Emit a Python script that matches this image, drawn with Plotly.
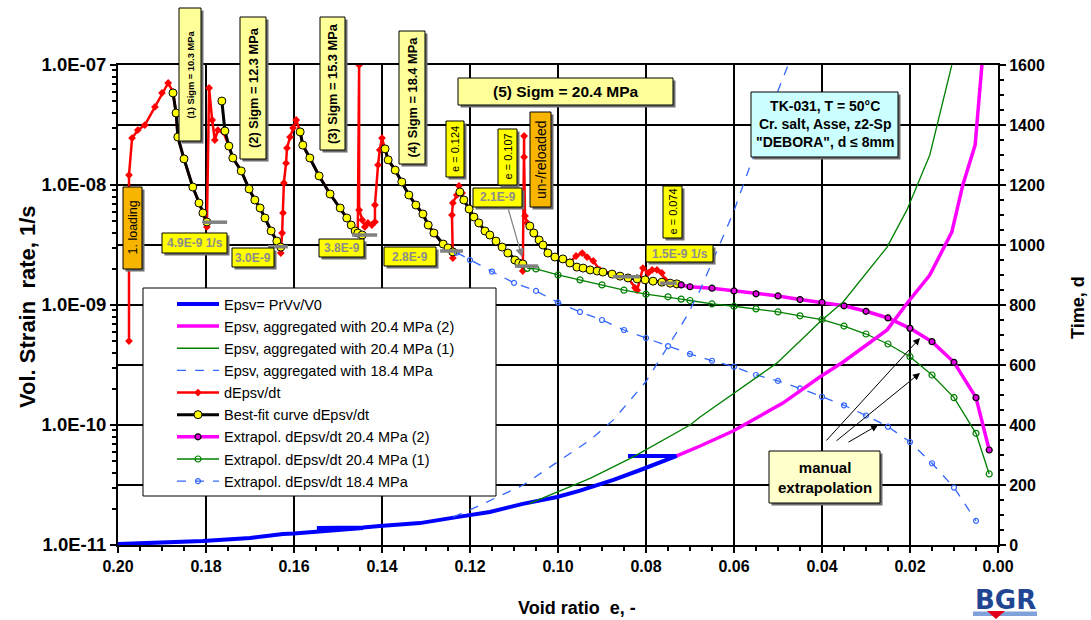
import plotly.graph_objects as go

FONT = "Liberation Sans, Arial, sans-serif"

# ---------------- data (right axis: time, d) ----------------
epsv_e = [0.200, 0.1905, 0.1807, 0.170, 0.1625, 0.160, 0.1518, 0.1443, 0.1548, 0.1443, 0.1405,
          0.1314, 0.123, 0.1155, 0.108, 0.1002, 0.095, 0.0874, 0.0813, 0.0753, 0.0730, 0.0841]
epsv_t = [3, 7, 13, 23, 37, 38, 47, 57, 57, 58, 63, 73, 93, 110, 137, 160, 181, 217, 250, 283, 297, 297]

agg2_e = [0.0730, 0.0677, 0.0602, 0.0489, 0.0405, 0.0352, 0.0252, 0.0207, 0.0155, 0.0105, 0.0080, 0.0052, 0.0036]
agg2_t = [297, 330, 380, 473, 560, 610, 717, 805, 900, 1043, 1200, 1333, 1610]

agg1_e = [0.1064, 0.095, 0.0927, 0.083, 0.070, 0.0677, 0.0502, 0.0405, 0.0352, 0.0252, 0.0207, 0.0155, 0.0105]
agg1_t = [139, 206, 222, 293, 400, 427, 607, 743, 810, 993, 1117, 1300, 1600]

agg184_e = [0.1238, 0.120, 0.1079, 0.0927, 0.0874, 0.080, 0.0708, 0.0677, 0.0602, 0.0526, 0.0477]
agg184_t = [94, 117, 200, 350, 417, 545, 761, 850, 1106, 1417, 1600]

# ---------------- data (left axis: strain rate, 1/s) ----------------
rate_e = [0.1975, 0.1975, 0.1968, 0.1955, 0.1939, 0.1916, 0.1900, 0.1886, 0.1875, 0.1868, 0.1864, 0.1850,
          0.1830, 0.1816, 0.1807, 0.1798,
          0.1793, 0.1786, 0.1780, 0.1773, 0.1761, 0.1748, 0.1739, 0.1720, 0.1702, 0.1689, 0.1677, 0.1666,
          0.1652, 0.1639, 0.1630,
          0.1627, 0.1625, 0.1623, 0.1618, 0.1616, 0.1609, 0.1602, 0.1595,
          0.1586, 0.1580, 0.1564, 0.1543, 0.1518, 0.1495, 0.1480, 0.1470, 0.1461, 0.1455,
          0.1452, 0.1452, 0.1445, 0.1439, 0.1432, 0.1423, 0.1416, 0.1416, 0.1409, 0.1405, 0.1400,
          0.1393, 0.1386, 0.1370, 0.1355, 0.1339, 0.1323, 0.1307, 0.1295, 0.1282, 0.1261, 0.1250, 0.1239, 0.1239,
          0.1241, 0.1239, 0.1230, 0.1225,
          0.1218, 0.1214, 0.1202, 0.1191, 0.1180, 0.1166, 0.1155, 0.1141, 0.1127, 0.1114, 0.1098, 0.1089,
          0.1080, 0.1080,
          0.1077, 0.1077, 0.1075, 0.1070,
          0.1064, 0.1055, 0.1043, 0.1034, 0.1023, 0.1007, 0.0989, 0.0973, 0.0959, 0.0945, 0.0934, 0.0920,
          0.0905, 0.0877, 0.0859, 0.0841, 0.0825, 0.0820, 0.0807, 0.0795, 0.0786, 0.0775, 0.0764, 0.0757,
          0.0745, 0.0730]
rate_v = [5.0e-10, 1.21e-8, 2.46e-8, 2.87e-8, 3.16e-8, 4.47e-8, 5.85e-8, 7.08e-8, 5.96e-8, 3.98e-8, 2.51e-8, 1.65e-8,
          9.62e-9, 7.08e-9, 5.85e-9, 4.47e-9,
          6.43e-8, 3.48e-8, 2.37e-8, 2.87e-8, 2.77e-8, 2.11e-8, 1.68e-8, 1.31e-8, 9.26e-9, 7.50e-9, 6.43e-9, 5.31e-9,
          4.14e-9, 3.41e-9, 2.71e-9,
          3.98e-9, 5.85e-9, 1.04e-8, 1.52e-8, 2.03e-8, 2.51e-8, 2.99e-8, 3.48e-8,
          2.77e-8, 2.15e-8, 1.68e-8, 1.19e-8, 8.41e-9, 6.43e-9, 5.31e-9, 4.64e-9, 4.14e-9, 3.98e-9,
          1.0e-7, 6.19e-9, 5.11e-9, 4.47e-9, 4.83e-9, 4.64e-9, 4.92e-9, 6.81e-9, 1.47e-8, 1.96e-8, 2.46e-8,
          2.0e-8, 1.62e-8, 1.33e-8, 1.06e-8, 8.25e-9, 6.81e-9, 5.73e-9, 4.64e-9, 3.98e-9, 3.22e-9, 2.99e-9, 2.77e-9, 2.46e-9,
          5.62e-9, 7.08e-9, 8.25e-9, 9.82e-9,
          8.58e-9, 7.50e-9, 6.31e-9, 5.41e-9, 4.83e-9, 4.14e-9, 3.83e-9, 3.41e-9, 3.04e-9, 2.71e-9, 2.37e-9, 2.24e-9,
          2.20e-9, 1.92e-9,
          2.56e-8, 1.71e-8, 5.52e-9, 4.83e-9,
          4.55e-9, 3.98e-9, 3.48e-9, 3.16e-9, 2.71e-9, 2.51e-9, 2.42e-9, 2.28e-9, 2.56e-9, 2.71e-9, 2.51e-9, 2.33e-9,
          1.96e-9, 1.81e-9, 1.74e-9, 1.68e-9, 1.39e-9, 1.33e-9, 2.03e-9, 1.85e-9, 1.96e-9, 1.96e-9, 1.85e-9, 1.62e-9,
          1.50e-9, 1.47e-9]

fit_e = [0.1875, 0.1868, 0.1864, 0.1850, 0.1830, 0.1816, 0.1807, 0.1798, None,
         0.1764, 0.1757, 0.1748, 0.1739, 0.1720, 0.1702, 0.1689, 0.1677, 0.1666, 0.1652, 0.1639, 0.1630, None,
         0.1586, 0.1580, 0.1564, 0.1543, 0.1518, 0.1495, 0.1480, 0.1470, 0.1461, 0.1455, 0.1445, None,
         0.1393, 0.1386, 0.1370, 0.1355, 0.1339, 0.1323, 0.1307, 0.1295, 0.1282, 0.1261, 0.1250, 0.1239, None,
         0.1223, 0.1214, 0.1202, 0.1191, 0.1180, 0.1166, 0.1155, 0.1141, 0.1127, 0.1114, 0.1098, 0.1089, 0.1080, None,
         0.1064, 0.1055, 0.1043, 0.1034, 0.1023, 0.1007, 0.0989, 0.0973, 0.0957, 0.0943, 0.0927, 0.0911, 0.0898,
         0.0877, 0.0859, 0.0841, 0.0820, 0.0802, 0.0784, 0.0764, 0.0745, 0.0730]
fit_v = [5.85e-8, 3.98e-8, 2.51e-8, 1.65e-8, 9.62e-9, 7.08e-9, 5.85e-9, 4.92e-9, None,
         5.01e-8, 2.82e-8, 2.11e-8, 1.68e-8, 1.31e-8, 9.26e-9, 7.50e-9, 6.43e-9, 5.31e-9, 4.14e-9, 3.41e-9, 3.04e-9, None,
         2.77e-8, 2.15e-8, 1.68e-8, 1.19e-8, 8.41e-9, 6.43e-9, 5.31e-9, 4.64e-9, 4.14e-9, 3.98e-9, 3.83e-9, None,
         2.0e-8, 1.62e-8, 1.33e-8, 1.06e-8, 8.25e-9, 6.81e-9, 5.73e-9, 4.64e-9, 3.98e-9, 3.22e-9, 2.99e-9, 2.77e-9, None,
         8.75e-9, 7.50e-9, 6.31e-9, 5.41e-9, 4.83e-9, 4.14e-9, 3.83e-9, 3.41e-9, 3.04e-9, 2.71e-9, 2.37e-9, 2.24e-9, 2.20e-9, None,
         4.55e-9, 3.98e-9, 3.48e-9, 3.16e-9, 2.71e-9, 2.51e-9, 2.42e-9, 2.24e-9, 2.07e-9, 2.03e-9, 1.96e-9, 1.92e-9, 1.88e-9,
         1.81e-9, 1.74e-9, 1.68e-9, 1.65e-9, 1.62e-9, 1.58e-9, 1.55e-9, 1.52e-9, 1.50e-9]

ext2_e = [0.072, 0.070, 0.065, 0.060, 0.055, 0.050, 0.045, 0.040, 0.035, 0.030, 0.025, 0.020, 0.015, 0.010, 0.005, 0.002]
ext2_v = [1.47e-9, 1.42e-9, 1.38e-9, 1.31e-9, 1.24e-9, 1.19e-9, 1.11e-9, 1.05e-9, 9.85e-10, 8.86e-10, 7.80e-10,
          6.39e-10, 4.95e-10, 3.33e-10, 1.69e-10, 6.19e-11]

ext1_e = [0.107, 0.105, 0.100, 0.095, 0.090, 0.085, 0.080, 0.075, 0.072, 0.070, 0.065, 0.060, 0.055, 0.050,
          0.045, 0.040, 0.035, 0.030, 0.025, 0.020, 0.015, 0.010, 0.005, 0.002]
ext1_v = [2.02e-9, 2.0e-9, 1.78e-9, 1.62e-9, 1.47e-9, 1.33e-9, 1.23e-9, 1.17e-9, 1.12e-9, 1.09e-9, 1.02e-9, 9.76e-10,
          9.29e-10, 8.75e-10, 8.13e-10, 7.57e-10, 6.68e-10, 5.73e-10, 4.73e-10, 3.71e-10, 2.61e-10, 1.69e-10,
          8.53e-11, 3.91e-11]

ext184_e = [0.123, 0.120, 0.115, 0.110, 0.105, 0.100, 0.095, 0.090, 0.085, 0.080, 0.075, 0.070, 0.065, 0.060,
            0.055, 0.050, 0.045, 0.040, 0.035, 0.030, 0.025, 0.020, 0.015, 0.010, 0.005]
ext184_v = [2.73e-9, 2.37e-9, 1.90e-9, 1.53e-9, 1.31e-9, 1.05e-9, 8.75e-10, 7.50e-10, 6.19e-10, 5.31e-10, 4.55e-10,
            3.91e-10, 3.43e-10, 3.06e-10, 2.61e-10, 2.33e-10, 2.02e-10, 1.72e-10, 1.46e-10, 1.20e-10, 9.68e-11,
            7.22e-11, 4.80e-11, 3.01e-11, 1.59e-11]

# reference rate marks (grey bars)
ref_e = [0.1807, 0.1752, None, 0.1659, 0.1614, None, 0.1468, 0.1411, None, 0.1268, 0.1216, None,
         0.1098, 0.1045, None, 0.0875, 0.0814, None, 0.0768, 0.0730]
ref_v = [4.9e-9, 4.9e-9, None, 3.06e-9, 3.06e-9, None, 3.83e-9, 3.83e-9, None, 2.82e-9, 2.82e-9, None,
         2.11e-9, 2.11e-9, None, 1.72e-9, 1.72e-9, None, 1.52e-9, 1.52e-9]

y_tickvals = [1e-11, 1e-10, 1e-9, 1e-8, 1e-7]
y_ticktext = ["1.0E-11", "1.0E-10", "1.0E-09", "1.0E-08", "1.0E-07"]

# ---------------- figure ----------------
fig = go.Figure()

def add(x, y, name, axis, **kw):
    fig.add_trace(go.Scatter(x=x, y=y, name=name, yaxis=axis, legendgroup=name, **kw))

add(epsv_e, epsv_t, "Epsv= PrVv/V0", "y2", mode="lines", line=dict(color="#0000FF", width=4))
add(agg2_e, agg2_t, "Epsv, aggregated with 20.4 MPa (2)", "y2", mode="lines", line=dict(color="#FF00FF", width=3.5))
add(agg1_e, agg1_t, "Epsv, aggregated with 20.4 MPa (1)", "y2", mode="lines", line=dict(color="#008000", width=1.3))
add(agg184_e, agg184_t, "Epsv, aggregated with 18.4 MPa", "y2", mode="lines",
    line=dict(color="#3366FF", width=1.3, dash="dash"))
add(rate_e, rate_v, "dEpsv/dt", "y", mode="lines+markers", line=dict(color="#FF0000", width=2.5),
    marker=dict(symbol="diamond", size=6, color="#FF0000"))
add(fit_e, fit_v, "Best-fit curve dEpsv/dt", "y", mode="lines+markers", line=dict(color="#000000", width=3),
    marker=dict(symbol="circle", size=8, color="#FFFF00", line=dict(color="#000000", width=1)))
add(ext2_e, ext2_v, "Extrapol. dEpsv/dt 20.4 MPa (2)", "y", mode="lines+markers",
    line=dict(color="#FF00FF", width=3.5),
    marker=dict(symbol="circle", size=6, color="#E000E0", line=dict(color="#000000", width=1.2)))
add(ext1_e, ext1_v, "Extrapol. dEpsv/dt 20.4 MPa (1)", "y", mode="lines+markers",
    line=dict(color="#008000", width=1.3),
    marker=dict(symbol="circle-open", size=6, color="#008000", line=dict(width=1.2)))
add(ext184_e, ext184_v, "Extrapol. dEpsv/dt 18.4 MPa", "y", mode="lines+markers",
    line=dict(color="#3366FF", width=1.3, dash="dash"),
    marker=dict(symbol="circle-open", size=5, color="#3366FF", line=dict(width=1.2)))
fig.add_trace(go.Scatter(x=ref_e, y=ref_v, yaxis="y", mode="lines", showlegend=False,
                         line=dict(color="#808080", width=3.5), hoverinfo="skip"))

# ---------------- layout ----------------
L, R, T, B = 118, 93, 65, 75
W, H = 1091, 620
PW, PH = W - L - R, H - T - B

def px(x):
    return (x - L) / PW

def py(y):
    return (H - B - y) / PH

minor_y = [m * 10.0 ** p for p in range(-11, -7) for m in range(2, 10)]

axis_font = dict(family=FONT, size=16, color="black", weight="bold")
yaxis_font = dict(family=FONT, size=18.5, color="black", weight="bold")

fig.update_layout(
    width=W, height=H, autosize=False,
    margin=dict(l=L, r=R, t=T, b=B, autoexpand=False),
    paper_bgcolor="white", plot_bgcolor="white",
    font=dict(family=FONT, color="black"),
    xaxis=dict(range=[0.20, 0.0], dtick=0.02, tick0=0, tickformat=".2f", automargin=False,
               showgrid=True, gridcolor="black", gridwidth=1.5, zeroline=False,
               showline=True, linecolor="black", linewidth=2, mirror=True,
               ticks="outside", ticklen=6, tickwidth=1.5, tickcolor="black",
               minor=dict(dtick=0.005, ticks="outside", ticklen=4, tickcolor="black", showgrid=False),
               tickfont=axis_font),
    yaxis=dict(type="log", range=[-11, -7], tickvals=y_tickvals, ticktext=y_ticktext, automargin=False,
               showgrid=False, zeroline=False,
               showline=True, linecolor="black", linewidth=2,
               ticks="outside", ticklen=6, tickwidth=1.5, tickcolor="black",
               minor=dict(tickvals=minor_y, ticks="outside", ticklen=4, tickcolor="black", showgrid=False),
               tickfont=yaxis_font),
    yaxis2=dict(overlaying="y", side="right", range=[0, 1600], dtick=200, automargin=False,
                showgrid=True, gridcolor="black", gridwidth=1.5, zeroline=False,
                showline=True, linecolor="black", linewidth=2,
                ticks="outside", ticklen=6, tickwidth=1.5, tickcolor="black",
                minor=dict(dtick=50, ticks="outside", ticklen=4, tickcolor="black", showgrid=False),
                tickfont=axis_font),
    legend=dict(x=px(172), y=py(288), xanchor="left", yanchor="top",
                bgcolor="rgba(0,0,0,0)", borderwidth=0,
                font=dict(family=FONT, size=14.5, color="black"),
                traceorder="grouped", tracegroupgap=0.3, itemwidth=42),
    showlegend=True,
)

shapes = []
annotations = []

# legend frame
shapes.append(dict(type="rect", xref="paper", yref="paper", x0=px(143), x1=px(496), y0=py(288), y1=py(496),
                   fillcolor="white", line=dict(color="black", width=1), layer="above"))

def box(x0, y0, x1, y1, fill, text, size, bold=True, color="black", angle=0, shadow=True):
    if shadow:
        shapes.append(dict(type="rect", xref="paper", yref="paper",
                           x0=px(x0 + 2.5), x1=px(x1 + 2.5), y0=py(y0 + 2.5), y1=py(y1 + 2.5),
                           fillcolor="#6e6e6e", line=dict(width=0), layer="above"))
    shapes.append(dict(type="rect", xref="paper", yref="paper", x0=px(x0), x1=px(x1), y0=py(y0), y1=py(y1),
                       fillcolor=fill, line=dict(color="black", width=1), layer="above"))
    annotations.append(dict(xref="paper", yref="paper", x=px((x0 + x1) / 2), y=py((y0 + y1) / 2),
                            xanchor="center", yanchor="middle", showarrow=False, textangle=angle,
                            text=text, font=dict(family=FONT, size=size, color=color,
                                                 weight="bold" if bold else "normal")))

PALE = "#FFFF99"
YEL = "#FFFF00"
ORG = "#F7B500"
GREY = "#8C8C8C"

box(179, 8, 201, 141, PALE, "(1) Sigm = 10.3 MPa", 9.3, angle=-90)
box(240, 17, 266, 159, PALE, "(2) Sigm = 12.3 MPa", 12.8, angle=-90)
box(320, 17, 345, 150, PALE, "(3) Sigm = 15.3 MPa", 12.8, angle=-90)
box(399, 31, 425, 164, PALE, "(4) Sigm = 18.4 MPa", 12.8, angle=-90)
box(458, 78, 673, 105, PALE, "(5) Sigm = 20.4 MPa", 15.5)
box(446, 121, 464, 177, YEL, "e = 0.124", 11, bold=False, angle=-90)
box(498, 129, 517, 185, YEL, "e = 0.107", 11, bold=False, angle=-90)
box(530, 112, 551, 207, ORG, "un-/reloaded", 14, bold=False, angle=-90)
box(663, 186, 682, 238, YEL, "e = 0.074", 11, bold=False, angle=-90)
box(646, 245, 713, 262, YEL, "1.5E-9 1/s", 12, color=GREY)
box(473, 188, 522, 207, YEL, "2.1E-9", 12, color=GREY)
box(384, 247, 436, 266, YEL, "2.8E-9", 12, color=GREY)
box(319, 239, 364, 257, YEL, "3.8E-9", 12, color=GREY)
box(232, 248, 274, 267, YEL, "3.0E-9", 12, color=GREY)
box(162, 233, 227, 253, YEL, "4.9E-9 1/s", 12, color=GREY)
box(123, 187, 142, 269, ORG, "1. loading", 12.5, bold=False, angle=-90)
box(751, 92, 898, 157, "#CCFFFF", "TK-031, T = 50°C<br>Cr. salt, Asse, z2-Sp<br>\"DEBORA\", d ≤ 8mm", 14)
box(769, 451, 880, 503, "#FFFFCC", "manual<br>extrapolation", 15)

# axis titles
def title(x, y, text, angle=0, size=18):
    annotations.append(dict(xref="paper", yref="paper", x=px(x), y=py(y), xanchor="center", yanchor="middle",
                            showarrow=False, textangle=angle, text=text,
                            font=dict(family=FONT, size=size, color="black", weight="bold")))

title(577, 608, "Void ratio\u00a0 e, -")
title(27, 307, "Vol. Strain\u00a0 rate, 1/s", angle=-90, size=22)
title(1078, 308, "Time, d", angle=-90)

# arrows
def arrow(tx, ty, hx, hy, color="black", width=1):
    annotations.append(dict(xref="paper", yref="paper", x=px(hx), y=py(hy), ax=tx - hx, ay=ty - hy,
                            axref="pixel", ayref="pixel", text="", showarrow=True,
                            arrowhead=2, arrowsize=1.4, arrowwidth=width, arrowcolor=color))

arrow(508, 208, 522, 257, color="#808080", width=1.2)
arrow(825, 442, 920, 338)
arrow(835, 442, 920, 373)
arrow(847, 443, 878, 425)

# BGR logo
annotations.append(dict(xref="paper", yref="paper", x=px(1005), y=py(600), xanchor="center", yanchor="middle",
                        showarrow=False, text="BGR",
                        font=dict(family="DejaVu Sans, Arial", size=26, color="#1F4593", weight="bold")))
shapes.append(dict(type="rect", xref="paper", yref="paper", x0=px(973), x1=px(1037), y0=py(611.5), y1=py(616),
                   fillcolor="#7FA2DA", line=dict(width=0)))
shapes.append(dict(type="path", xref="paper", yref="paper",
                   path=f"M {px(987)},{py(611)} L {px(1005)},{py(611)} L {px(996)},{py(619)} Z",
                   fillcolor="#E2001A", line=dict(width=0)))

fig.update_layout(shapes=shapes, annotations=annotations)

fig.write_html("out.html")
